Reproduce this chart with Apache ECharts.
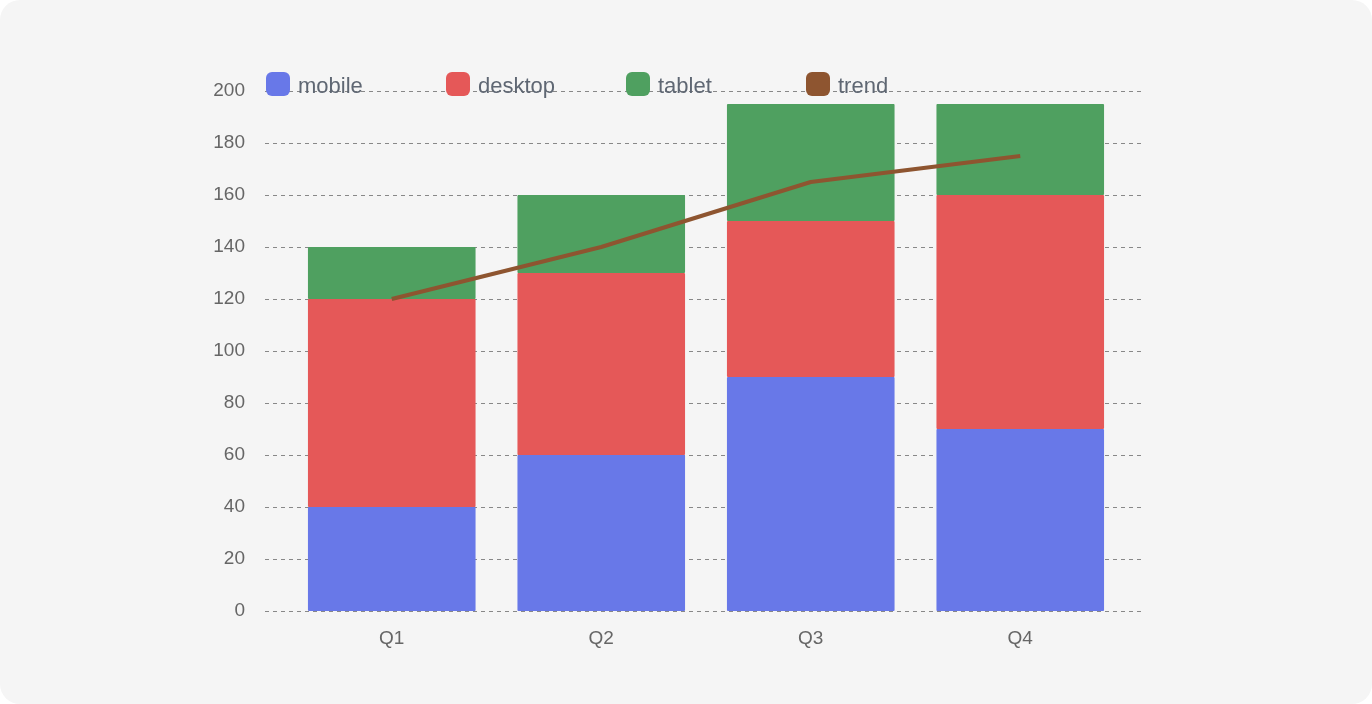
<!DOCTYPE html>
<html>
<head>
<meta charset="utf-8">
<script src="https://cdn.jsdelivr.net/npm/echarts@6/dist/echarts.min.js"></script>
<style>
html,body{margin:0;padding:0;background:#ffffff;}
#card{position:absolute;left:0;top:0;width:1372px;height:704px;background:#f5f5f5;border-radius:20px;overflow:hidden;}
#chart{width:1372px;height:704px;}
</style>
</head>
<body>
<div id="card"><div id="chart"></div></div>
<script>
const categories = ['Q1', 'Q2', 'Q3', 'Q4'];
const seriesNames = ['mobile', 'desktop', 'tablet', 'trend'];
const mobile = [40, 60, 90, 70];
const desktop = [80, 70, 60, 90];
const tablet = [20, 30, 45, 35];
const trend = [120, 140, 165, 175];
const yTicks = { min: 0, max: 200, interval: 20 };

const chart = echarts.init(document.getElementById('chart'), null, { renderer: 'canvas' });
const labelFont = 'Liberation Sans, Arial, sans-serif';
const legends = seriesNames.map((n, i) => ({
  left: 261 + i * 180, top: 67,
  icon: 'roundRect',
  itemWidth: 24, itemHeight: 24,
  formatter: '{a|{name}}',
  textStyle: {
    fontFamily: labelFont, fontSize: 22, color: '#5f6773',
    rich: { a: { fontFamily: labelFont, fontSize: 22, color: '#5f6773', padding: [6, 0, 0, 3] } }
  },
  data: [n]
}));
chart.setOption({
  backgroundColor: 'transparent',
  animation: false,
  color: ['#6878e8', '#e55858', '#4fa060', '#8e5530'],
  legend: legends,
  grid: [
    { left: 265, right: 230, top: 91, bottom: 93 },
    { left: 287, right: 247, top: 91, bottom: 93 }
  ],
  xAxis: [
    { gridIndex: 0, type: 'value', show: false, min: 0, max: 1 },
    {
      gridIndex: 1, type: 'category', data: categories,
      axisLine: { show: false }, axisTick: { show: false },
      axisLabel: { fontFamily: labelFont, fontSize: 19, color: '#666', margin: 18 }
    }
  ],
  yAxis: [
    {
      gridIndex: 0, type: 'value', min: yTicks.min, max: yTicks.max, interval: yTicks.interval,
      axisLine: { show: false }, axisTick: { show: false },
      axisLabel: { fontFamily: labelFont, fontSize: 19, color: '#666', margin: 20 },
      splitLine: { lineStyle: { type: [4, 4], color: '#888', width: 1 } }
    },
    {
      gridIndex: 1, type: 'value', min: yTicks.min, max: yTicks.max, interval: yTicks.interval,
      show: false, splitLine: { show: false }
    }
  ],
  series: [
    { name: seriesNames[0], type: 'bar', stack: 'total', xAxisIndex: 1, yAxisIndex: 1, data: mobile, barCategoryGap: '20%', itemStyle: { borderRadius: 1 } },
    { name: seriesNames[1], type: 'bar', stack: 'total', xAxisIndex: 1, yAxisIndex: 1, data: desktop, barCategoryGap: '20%', itemStyle: { borderRadius: 1 } },
    { name: seriesNames[2], type: 'bar', stack: 'total', xAxisIndex: 1, yAxisIndex: 1, data: tablet, barCategoryGap: '20%', itemStyle: { borderRadius: 1 } },
    { name: seriesNames[3], type: 'line', xAxisIndex: 1, yAxisIndex: 1, data: trend, showSymbol: false, symbol: 'none', lineStyle: { width: 4, color: '#8e5530' }, z: 5 }
  ]
});
</script>
</body>
</html>
